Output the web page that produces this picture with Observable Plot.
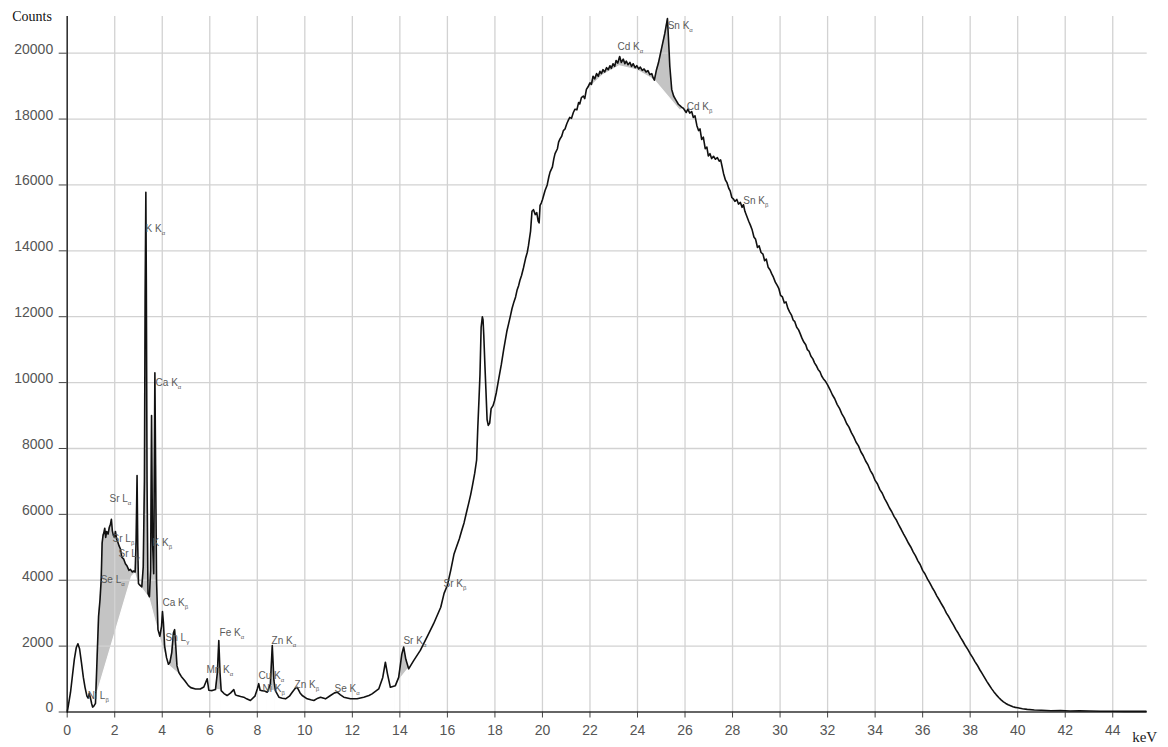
<!DOCTYPE html>
<html><head><meta charset="utf-8">
<script src="https://cdn.jsdelivr.net/npm/d3@7"></script>
<script src="https://cdn.jsdelivr.net/npm/@observablehq/plot@0.6"></script>
<style>body{margin:0;background:#fff;} #chart{width:1168px;height:747px;}</style>
</head><body><div id="chart"></div>
<script>
// Spectrum: [keV, counts]
const spectrum = [
[0.00,0],[0.05,200],[0.14,600],[0.22,1100],[0.30,1600],[0.38,1950],[0.45,2070],[0.52,1920],[0.60,1500],[0.68,1050],[0.75,750],[0.83,480],[0.88,420],[0.93,560],[0.98,420],[1.03,250],[1.07,150],[1.12,180],[1.19,260],[1.26,1680],[1.32,2900],[1.38,3400],[1.43,4010],[1.47,5130],[1.51,5370],[1.54,5430],[1.58,5580],[1.62,5300],[1.66,5480],[1.72,5400],[1.77,5600],[1.82,5700],[1.86,5850],[1.90,5500],[1.94,5370],[1.99,5300],[2.03,5480],[2.08,5250],[2.13,5160],[2.18,5050],[2.24,4950],[2.30,4700],[2.38,4640],[2.45,4500],[2.52,4430],[2.60,4300],[2.66,4330],[2.74,4250],[2.80,4280],[2.86,4250],[2.90,5200],[2.94,7180],[2.97,5000],[3.00,3900],[3.06,3850],[3.14,3800],[3.20,4400],[3.25,7000],[3.28,12600],[3.31,15780],[3.33,13000],[3.36,7000],[3.40,3600],[3.46,3500],[3.51,4300],[3.55,9000],[3.59,5200],[3.64,4200],[3.69,10300],[3.72,7500],[3.76,4000],[3.82,2500],[3.90,2300],[3.97,2600],[4.01,3050],[4.05,2700],[4.10,2000],[4.18,1650],[4.26,1450],[4.32,1500],[4.40,1800],[4.47,2400],[4.52,2500],[4.56,2100],[4.62,1400],[4.70,1200],[4.80,1080],[4.95,950],
[5.10,800],[5.20,740],[5.40,700],[5.60,700],[5.75,760],[5.89,1010],[5.96,660],[6.10,650],[6.24,680],[6.32,1200],[6.38,2170],[6.43,1200],[6.48,650],[6.60,560],[6.73,500],[6.88,580],[7.01,680],[7.08,520],[7.15,500],[7.30,470],[7.43,450],[7.55,400],[7.71,350],[7.90,480],[8.00,700],[8.06,860],[8.12,660],[8.20,650],[8.30,640],[8.42,600],[8.55,850],[8.63,2020],[8.70,950],[8.76,650],[8.91,450],[9.05,420],[9.19,400],[9.35,480],[9.47,600],[9.60,720],[9.68,750],[9.80,580],[9.89,500],[10.10,400],[10.25,370],[10.38,350],[10.55,420],[10.66,450],[10.87,400],[11.08,500],[11.25,580],[11.36,600],[11.50,520],[11.64,450],[11.92,400],[12.20,400],[12.48,450],[12.70,500],[12.83,550],[13.11,700],[13.28,1050],[13.39,1510],[13.48,1150],[13.60,750],[13.81,800],[13.95,1050],[14.08,1750],[14.16,1970],[14.25,1600],[14.37,1310],[14.58,1560],[14.86,1870],[15.14,2270],[15.42,2680],[15.72,3180],[15.86,3600],
[16.00,3850],[16.14,4300],[16.28,4800],[16.40,5050],[16.50,5250],[16.60,5500],[16.70,5740],[16.80,6050],[16.90,6350],[16.98,6600],[17.05,6860],[17.15,7250],[17.23,7650],[17.28,8650],[17.33,9500],[17.37,10220],[17.42,11680],[17.47,12000],[17.50,11900],[17.53,11460],[17.58,10500],[17.62,9800],[17.67,8880],[17.72,8700],[17.78,8770],[17.84,9210],[17.92,9300],[17.98,9440],[18.06,9700],[18.16,10110],[18.27,10550],[18.37,11010],[18.50,11550],[18.58,11800],[18.65,12020],[18.72,12250],[18.80,12450],[18.87,12600],[18.93,12800],[19.00,12950],[19.05,13100],[19.12,13250],[19.20,13480],[19.30,13800],[19.36,13950],[19.41,14150],[19.46,14400],[19.50,14600],[19.56,15200],[19.62,15250],[19.70,15100],[19.76,15160],[19.82,14900],[19.86,14850],[19.90,15380],[19.95,15450],
[20.00,15550],[20.11,15830],[20.20,16000],[20.27,16250],[20.32,16390],[20.42,16550],[20.48,16800],[20.53,16950],[20.63,17100],[20.68,17300],[20.74,17400],[20.81,17480],[20.88,17650],[20.95,17700],[21.02,17850],[21.08,17950],[21.15,18050],[21.22,18020],[21.30,18200],[21.37,18300],[21.45,18280],[21.52,18500],[21.57,18460],[21.64,18650],[21.72,18700],[21.78,18620],[21.85,18900],[21.92,18980],[22.00,19100],[22.06,19050],[22.13,19300],[22.20,19220],[22.28,19380],[22.35,19300],[22.42,19450],[22.48,19380],[22.55,19500],[22.62,19430],[22.70,19560],[22.77,19500],[22.84,19620],[22.90,19540],[22.97,19680],[23.04,19600],[23.10,19780],[23.17,19700],[23.25,19900],[23.32,19720],[23.40,19820],[23.47,19680],[23.53,19760],[23.60,19650],[23.68,19720],[23.75,19600],[23.82,19680],[23.90,19560],[23.97,19620],[24.05,19520],[24.12,19580],[24.20,19480],[24.28,19520],[24.36,19430],[24.44,19470],[24.52,19350],[24.60,19380],[24.66,19250],[24.71,19180],
[24.80,19500],[24.88,19700],[25.00,20100],[25.15,20600],[25.26,21050],[25.30,20500],[25.36,19600],[25.44,18900],[25.52,18700],[25.60,18600],[25.65,18540],[25.72,18450],[25.80,18400],[25.87,18350],[25.93,18330],
[26.05,18200],[26.12,18300],[26.20,18180],[26.28,18230],[26.35,18050],[26.42,18100],[26.50,17800],[26.57,17650],[26.63,17700],[26.70,17380],[26.77,17450],[26.85,17100],[26.92,17150],[26.98,16880],[27.05,16950],[27.12,16800],[27.20,16870],[27.28,16780],[27.36,16830],[27.44,16720],[27.50,16760],[27.56,16560],[27.62,16350],[27.70,16150],[27.76,16080],[27.84,15900],[27.90,15820],[27.97,15620],[28.03,15580],[28.10,15500],[28.18,15560],[28.25,15420],[28.33,15470],[28.40,15320],[28.46,15400],[28.52,15200],[28.60,15050],[28.68,14900],[28.75,14780],[28.82,14650],[28.90,14420],[28.97,14350],[29.05,14100],[29.12,14150],[29.20,13950],[29.28,13900],[29.35,13700],[29.42,13750],[29.50,13500],[29.58,13420],[29.65,13300],[29.72,13200],[29.80,13050],[29.88,12950],[29.95,12850],[30.02,12650],[30.10,12600],[30.18,12420],[30.25,12450],[30.33,12250],[30.40,12150],[30.48,12050],[30.55,11900],[30.62,11850],[30.70,11680],[30.78,11600],[30.85,11480],[30.92,11350],[31.00,11230],[31.08,11150],[31.15,11000],[31.22,10950],[31.30,10800],[31.38,10720],[31.45,10600],[31.52,10520],[31.60,10400],[31.68,10330],[31.75,10200],[31.82,10120],[31.90,10050],
[32.00,9930],[32.10,9790],[32.20,9630],[32.30,9510],[32.40,9340],[32.50,9220],[32.60,9050],[32.70,8930],[32.80,8760],[32.90,8650],[33.00,8480],[33.10,8350],[33.20,8190],[33.30,8080],[33.40,7900],[33.50,7780],[33.60,7620],[33.70,7500],[33.80,7330],[33.90,7210],[34.00,7030],[34.10,6920],[34.20,6750],[34.30,6640],[34.40,6480],[34.50,6350],[34.60,6200],[34.70,6080],[34.80,5930],[34.90,5820],[35.00,5670],[35.10,5540],[35.20,5400],[35.30,5270],[35.40,5130],[35.50,5010],[35.60,4860],[35.70,4740],[35.80,4590],[35.90,4470],[36.00,4300],[36.10,4190],[36.20,4040],[36.30,3920],[36.40,3780],[36.50,3660],[36.60,3520],[36.70,3400],[36.80,3270],[36.90,3150],[37.00,3000],[37.10,2890],[37.20,2760],[37.30,2640],[37.40,2500],[37.50,2390],[37.60,2260],[37.70,2140],[37.80,2010],[37.90,1900],[38.00,1770],[38.10,1660],[38.20,1530],[38.30,1420],[38.40,1290],[38.50,1170],[38.60,1050],[38.70,930],[38.80,820],[38.90,710],[39.00,610],[39.10,520],[39.20,440],[39.30,370],[39.40,310],[39.50,260],[39.60,220],[39.70,190],[39.80,160],[39.90,140],[40.00,130],[40.20,100],[40.40,80],[40.70,60],[41.00,55],[41.40,40],[41.80,45],[42.20,30],[42.60,40],[43.00,30],[43.50,25],[44.00,25],[44.50,20],[45.00,20],[45.40,20]
];
// Fitted continuum under the shaded peaks: [keV, counts]
const background = [
[1.12,180],[2.73,4100],[2.86,4200],[3.00,3850],[3.14,3750],[3.46,3450],[3.90,2250],[4.26,1420],[4.70,1150],
[6.24,680],[6.48,650],
[8.42,600],[8.76,650],
[13.81,800],[14.37,1310],
[21.92,18900],[22.55,19320],[23.25,19600],[23.97,19480],[24.71,19180],[25.80,18250],[25.93,18330]
];
const grayRanges = [[1.12,4.70],[6.24,6.48],[8.42,8.76],[13.81,14.37],[21.92,25.93]];

// Peak annotations
const peakNames = ["K K","Ca K","Sr L","Sr L","Sr L","Se L","K K","Ca K","Sn L","Ni L","Mn K","Fe K","Cu K","Ni K","Zn K","Zn K","Se K","Sr K","Sr K","Cd K","Sn K","Cd K","Sn K"];
const peakSubs  = ["α","α","α","β","γ","α","β","β","γ","β","α","α","α","β","α","β","α","α","β","α","α","β","β"];
const peakKeV   = [3.30,3.72,1.78,1.91,2.16,1.41,3.59,4.01,4.14,0.86,5.86,6.41,8.05,8.22,8.60,9.57,11.25,14.15,15.84,23.16,25.27,26.07,28.45];
const peakCounts= [14680,10000,6480,5270,4810,4000,5150,3320,2250,500,1290,2410,1110,710,2170,840,710,2170,3900,20180,20840,18380,15530];

const xTicks = [0,2,4,6,8,10,12,14,16,18,20,22,24,26,28,30,32,34,36,38,40,42,44];
const yTicks = [0,2000,4000,6000,8000,10000,12000,14000,16000,18000,20000];

const inRange = e => grayRanges.findIndex(([lo,hi]) => e >= lo - 1e-9 && e <= hi + 1e-9);
const specRows = spectrum.map(([e,c]) => ({e,c}));
const grayRows = [];
grayRanges.forEach(([lo,hi],i) => spectrum.forEach(([e,c]) => { if (e >= lo - 1e-9 && e <= hi + 1e-9) grayRows.push({e,c,g:i}); }));
const bgRows = background.map(([e,c]) => ({e,c,g:inRange(e)}));
const labelRows = peakNames.map((n,i) => ({n, s:peakSubs[i], e:peakKeV[i], c:peakCounts[i]}));

const chart = Plot.plot({
  width: 1168, height: 747,
  marginLeft: 66.7, marginRight: 21.3, marginTop: 16, marginBottom: 35.5,
  x: {domain: [0, 45.45]},
  y: {domain: [0, 21114]},
  style: {background: "#fff", fontFamily: "'Liberation Sans', Arial, sans-serif"},
  marks: [
    Plot.areaY(grayRows, {x: "e", y: "c", z: "g", fill: "#c4c4c4"}),
    Plot.areaY(bgRows, {x: "e", y: "c", z: "g", fill: "#ffffff", stroke: "#ffffff", strokeWidth: 1.2}),
    Plot.gridX(xTicks.filter(d => d > 0), {stroke: "#d2d2d2", strokeOpacity: 1, strokeWidth: 1.3}),
    Plot.gridY(yTicks.filter(d => d > 0), {stroke: "#d2d2d2", strokeOpacity: 1, strokeWidth: 1.3}),
    Plot.axisX(xTicks, {tickSize: 6, tickPadding: 7, fontSize: 14, fill: "#555", stroke: "#444", tickFormat: d => String(d), label: null}),
    Plot.axisY(yTicks, {tickSize: 8, fill: "none", stroke: "#444", label: null}),
    Plot.axisY(yTicks, {tickSize: 0, tickPadding: 14, dy: -4, fontSize: 14, fill: "#555", tickFormat: d => String(d), label: null}),
    Plot.ruleX([0], {stroke: "#333", strokeWidth: 1.6}),
    Plot.ruleY([0], {stroke: "#333", strokeWidth: 1.6}),
    Plot.line(specRows, {x: "e", y: "c", stroke: "#111", strokeWidth: 1.6}),
    Plot.text(labelRows, {x: "e", y: "c", text: "n", textAnchor: "start", lineAnchor: "middle", fontSize: 10, fill: "#5a5a5a", className: "pk"}),
    Plot.text(["Counts"], {frameAnchor: "top-left", dx: -55, dy: 0, textAnchor: "start", lineAnchor: "middle", fontFamily: "'Liberation Serif', 'Times New Roman', serif", fontSize: 14, fill: "#111"}),
    Plot.text(["keV"], {frameAnchor: "bottom-right", dx: -15, dy: 25, textAnchor: "start", lineAnchor: "middle", fontFamily: "'Liberation Serif', 'Times New Roman', serif", fontSize: 15, fill: "#222"})
  ]
});
// add subscripts (α, β, γ) as tspans
chart.querySelectorAll("g.pk text").forEach((t, i) => {
  const s = document.createElementNS("http://www.w3.org/2000/svg", "tspan");
  s.setAttribute("font-size", "6");
  s.setAttribute("dy", "3");
  s.textContent = labelRows[i].s;
  t.appendChild(s);
});
document.getElementById("chart").appendChild(chart);
</script>
</body></html>
